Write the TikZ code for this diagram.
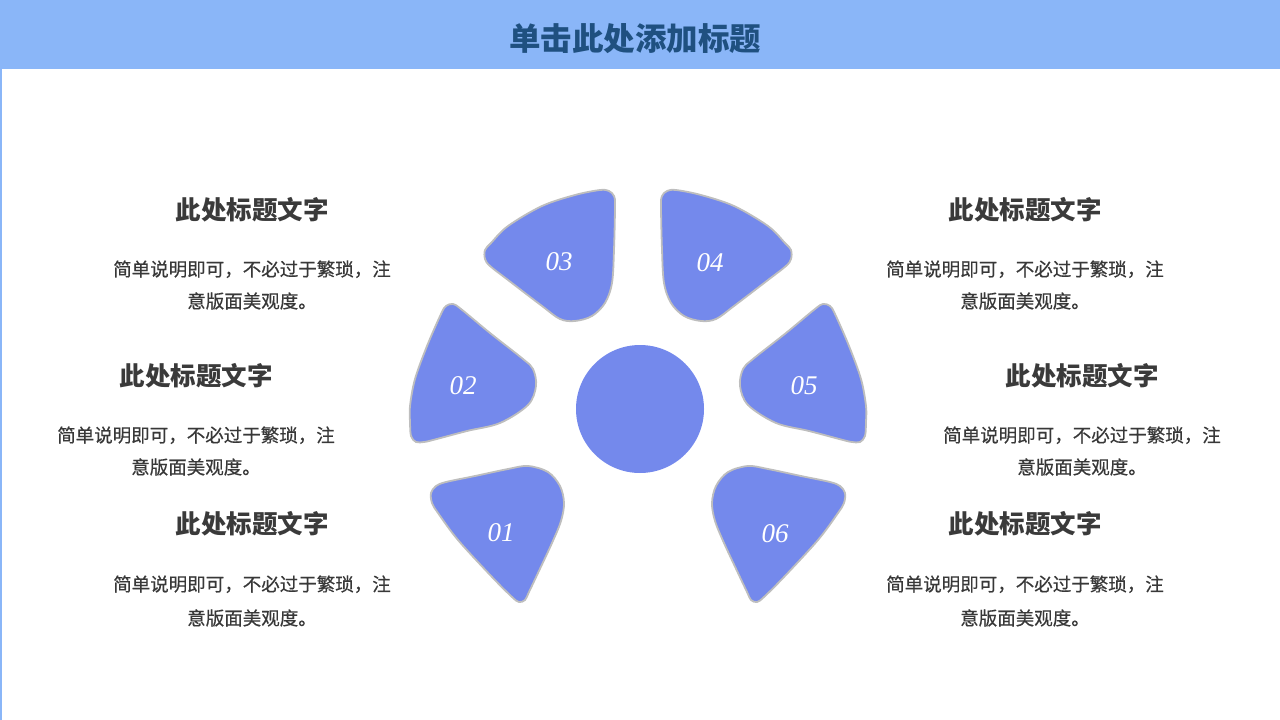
\documentclass[tikz,border=0pt]{standalone}
\usepackage{fontspec}
\setmainfont{Liberation Serif}
\newfontfamily\cjk{Noto Sans CJK SC}
\newfontfamily\cjkbody[FakeBold=0.5]{Noto Sans CJK SC}
\usetikzlibrary{calc}
\definecolor{banner}{RGB}{138,182,248}
\definecolor{titleblue}{RGB}{31,80,128}
\definecolor{petalfill}{RGB}{116,137,236}
\definecolor{petalline}{RGB}{190,190,190}
\definecolor{headgray}{RGB}{58,58,58}
\definecolor{bodygray}{RGB}{56,56,56}
\begin{document}
\begin{tikzpicture}[x=1pt,y=-1pt,
  petalshape/.style={fill=petalfill,draw=petalline,line width=1.8pt},
  numlabel/.style={text=white,font=\fontsize{27}{27}\selectfont\itshape,inner sep=0pt},
  headtext/.style={text=headgray,font=\cjk\bfseries\fontsize{25.5}{25.5}\selectfont,inner sep=0pt},
  bodytext/.style={text=bodygray,font=\cjkbody\fontsize{18.5}{32}\selectfont,align=center,inner sep=0pt},
  bodytextb/.style={bodytext,font=\cjkbody\fontsize{18.5}{34}\selectfont},
  titletext/.style={text=titleblue,font=\cjk\bfseries\fontsize{31.5}{31.5}\selectfont,inner sep=0pt}]
\useasboundingbox (0,0) rectangle (1280,720);
% banner and left rule
\fill[banner] (0,0) rectangle (1280,69);
\fill[banner] (0,69) rectangle (2,720);
\node[titletext] (title) at (635,39) {单击此处添加标题};
% centre circle
\fill[petalfill] (640,409) circle[radius=64];
\coordinate (hub) at (640,409);
% left petals
\newcommand{\petalone}{\draw[petalshape] plot[smooth cycle,tension=0.55] coordinates {(446,482) (475,476) (508,469) (528,466) (548,472) (560,486) (564,503) (561,521) (552,543) (538,573) (529,592) (525,600) (519,602) (512,597) (492,577) (458,540) (438,513) (432,503) (431,493) (436,486)};}
\newcommand{\petaltwo}{\draw[petalshape] plot[smooth cycle,tension=0.55] coordinates {(446,306) (453,304) (461,309) (490,333) (523,359) (533,369) (536,386) (528,405) (500,423) (467,431) (433,440) (424,442) (416,442) (411,436) (410,422) (410,406) (415,379) (427,346) (441,314)};}
\newcommand{\petalthree}{\draw[petalshape] plot[smooth cycle,tension=0.55] coordinates {(600,190) (609,191) (614,196) (615,206) (614,250) (612,283) (605,303) (592,316) (575,321) (560,319) (542,306) (508,280) (490,266) (485,259) (485,250) (491,243) (508,226) (542,206) (575,195)};}
\petalone
\petaltwo
\petalthree
\begin{scope}[shift={(1276,0)},xscale=-1]
\petalone
\petaltwo
\petalthree
\end{scope}
% numbers
\node[numlabel] (n1) at (501,533) {01};
\node[numlabel] (n2) at (463,386) {02};
\node[numlabel] (n3) at (559,262) {03};
\node[numlabel] (n4) at (710,263) {04};
\node[numlabel] (n5) at (804,386) {05};
\node[numlabel] (n6) at (775,534) {06};
% text blocks left
\node[headtext] (h1) at (252,210) {此处标题文字};
\node[bodytext] (b1) at (252,285) {简单说明即可，不必过于繁琐，注\\意版面美观度。};
\node[headtext] (h2) at (196,376) {此处标题文字};
\node[bodytext] (b2) at (196,451) {简单说明即可，不必过于繁琐，注\\意版面美观度。};
\node[headtext] (h3) at (252,524) {此处标题文字};
\node[bodytextb] (b3) at (252,601) {简单说明即可，不必过于繁琐，注\\意版面美观度。};
% text blocks right
\node[headtext] (h4) at (1025,210) {此处标题文字};
\node[bodytext] (b4) at (1025,285) {简单说明即可，不必过于繁琐，注\\意版面美观度。};
\node[headtext] (h5) at (1082,376) {此处标题文字};
\node[bodytext] (b5) at (1082,451) {简单说明即可，不必过于繁琐，注\\意版面美观度。};
\node[headtext] (h6) at (1025,524) {此处标题文字};
\node[bodytextb] (b6) at (1025,601) {简单说明即可，不必过于繁琐，注\\意版面美观度。};
\end{tikzpicture}
\end{document}
